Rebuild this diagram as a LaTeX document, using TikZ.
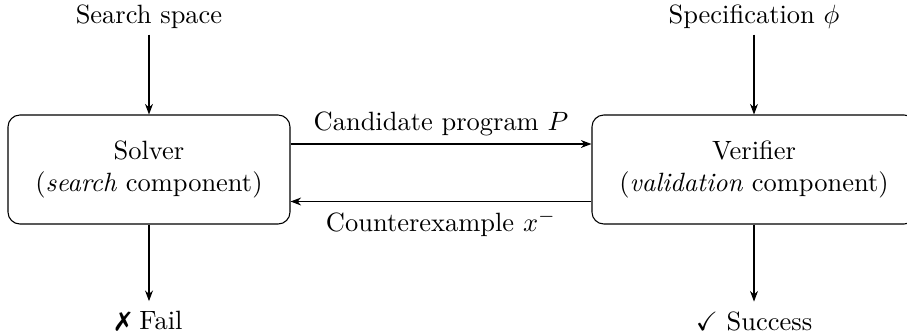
\documentclass[tikz,border=0pt]{standalone}
\usepackage{amssymb}
\usepackage{pifont}
\usetikzlibrary{calc,arrows.meta}
\tikzset{
  comp/.style={draw, rounded corners=4.5pt, align=center, minimum height=41.2pt, inner sep=0pt},
  lbl/.style={inner sep=2pt},
  flow/.style={-{Stealth[length=4pt,width=3pt]}, line width=0.4pt}
}
\begin{document}
\begin{tikzpicture}[x=0.378pt,y=-0.378pt]
\useasboundingbox (0,0) rectangle (907,335);
\node[comp, minimum width=106.6pt] (solver) at (149,169.5) {Solver\\(\textit{search} component)};
\node[comp, minimum width=122.5pt] (verifier) at (754,169.5) {Verifier\\(\textit{validation} component)};
\node[lbl] (space) at (149,17) {Search space};
\node[lbl] (spec) at (754,17) {Specification $\phi$};
\node[lbl] (fail) at (149,321) {\ding{55} Fail};
\node[lbl] (succ) at (754,321) {$\checkmark$ Success};
\coordinate (c1) at ($(solver.east)+(0,-25.5)$);
\coordinate (c2) at ($(verifier.west)+(0,-25.5)$);
\coordinate (c3) at ($(verifier.west)+(0,32)$);
\coordinate (c4) at ($(solver.east)+(0,32)$);
\coordinate (f1) at ($(fail.north)+(0,-4)$);
\coordinate (s1) at ($(succ.north)+(0,-4)$);
\draw[flow] (space.south) -- (solver.north);
\draw[flow] (spec.south) -- (verifier.north);
\draw[flow] (solver.south) -- (f1);
\draw[flow] (verifier.south) -- (s1);
\draw[flow] (c1) -- node[above, lbl, yshift=1pt] (lp) {Candidate program $P$} (c2);
\draw[flow] (c3) -- node[below, lbl, yshift=-1pt] (lx) {Counterexample $x^{-}$} (c4);
\end{tikzpicture}
\end{document}
